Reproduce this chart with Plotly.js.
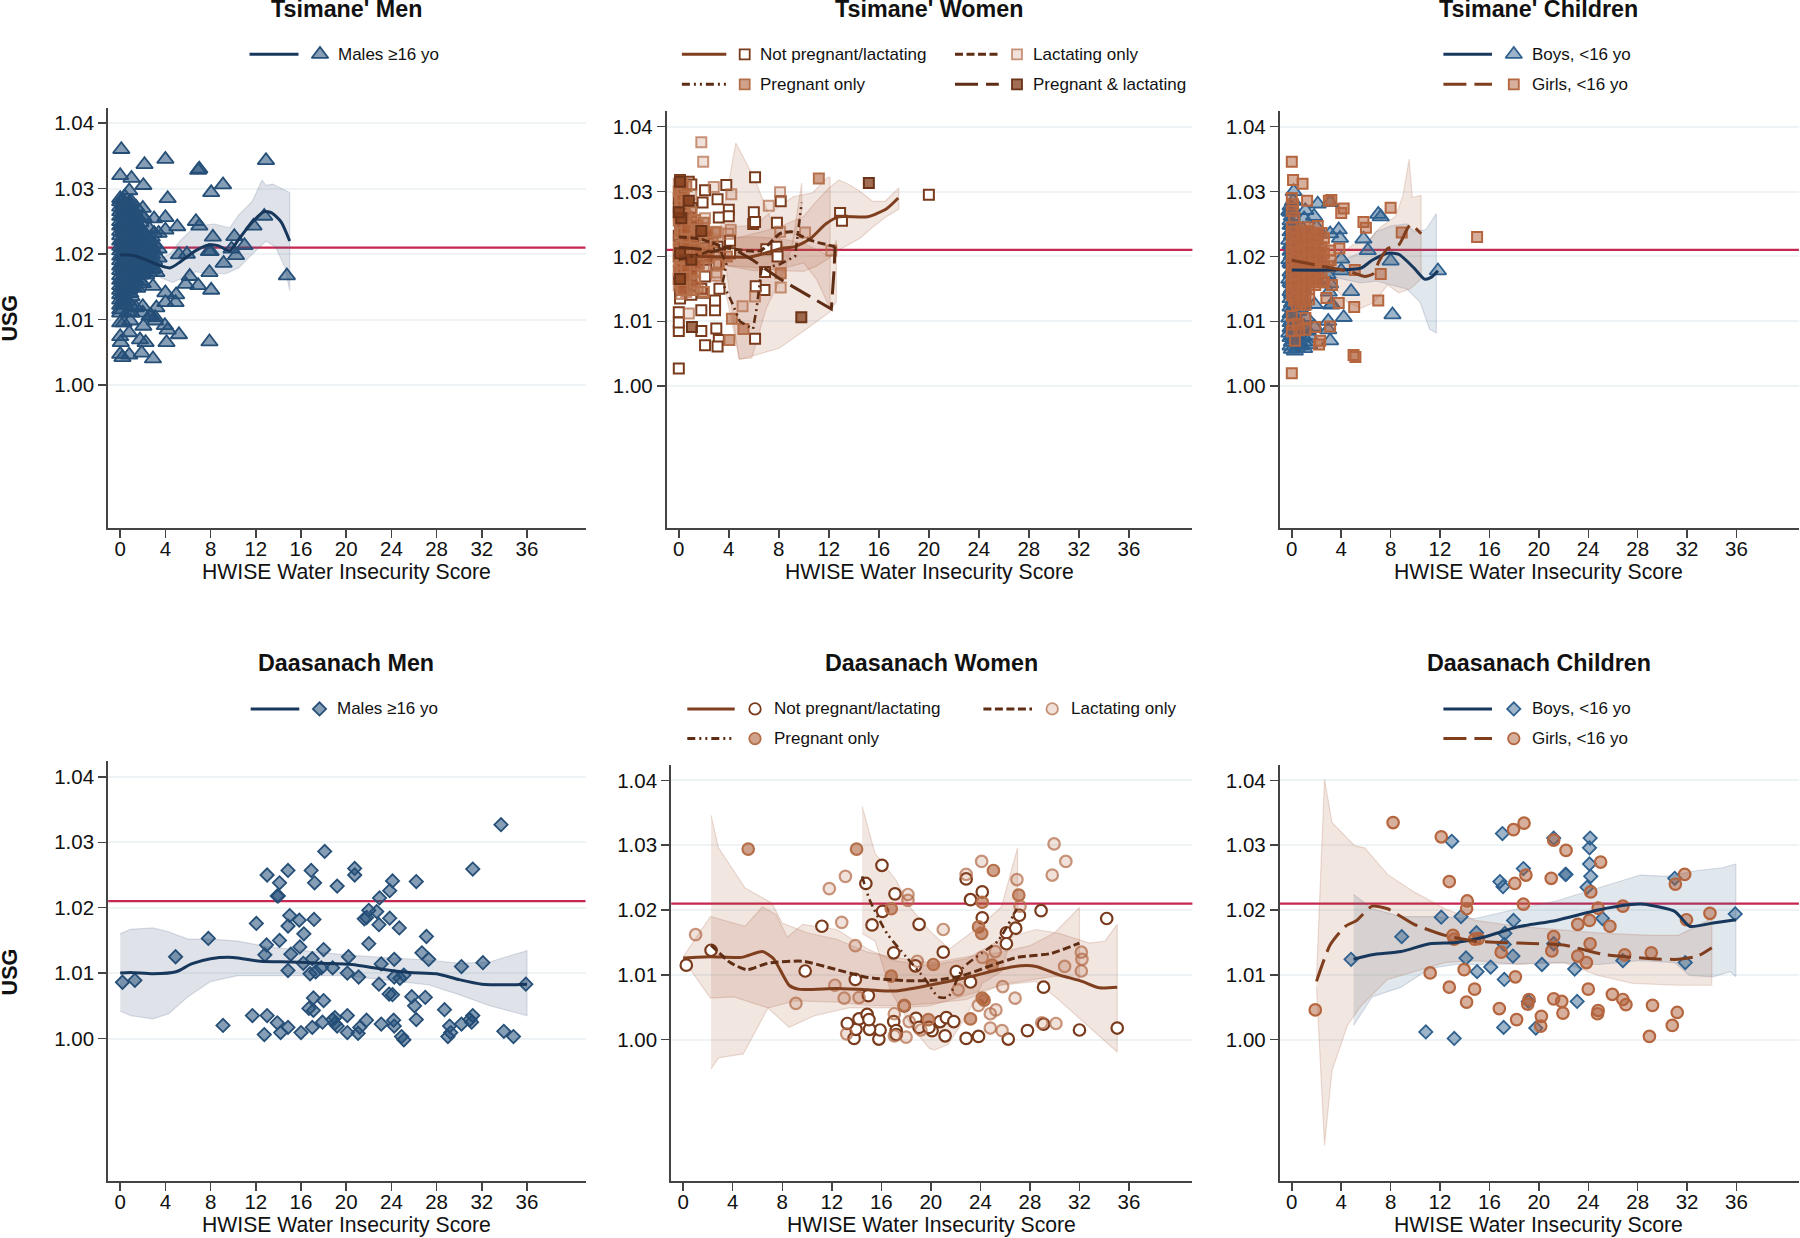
<!DOCTYPE html>
<html><head><meta charset="utf-8"><script src="https://cdn.plot.ly/plotly-3.0.1.min.js"></script>
<style>html,body{margin:0;padding:0;background:#fff}#c{width:1800px;height:1238px}</style></head>
<body><div id="c"></div>
<script>
const xTickVals=[0,4,8,12,16,20,24,28,32,36];
const yTickVals=[1.00,1.01,1.02,1.03,1.04];
const referenceUSG=1.021;
const xTitleText='HWISE Water Insecurity Score';
const yTitleText='USG';

// ---- Tsimane' Men
const tmMales=[[0.1,1.036],[0,1.032],[1,1.0316],[2.15,1.0337],[2.05,1.0305],[4,1.0345],[0.8,1.0297],[4.2,1.0285],[6.9,1.0328],[7,1.033],[8.05,1.0294],[9.1,1.0306],[12.9,1.0343],[12.75,1.0258],[11.8,1.0243],[10.1,1.0227],[8.2,1.0226],[6.7,1.025],[7,1.0243],[5.05,1.0242],[4,1.0256],[3,1.0254],[2.1,1.0255],[4,1.0237],[3.4,1.0232],[7.85,1.0204],[8,1.0204],[5.2,1.0199],[5.9,1.02],[9.85,1.0208],[11,1.0213],[10.25,1.0198],[9.15,1.0186],[7.9,1.0172],[6.15,1.0166],[5.8,1.0154],[6.9,1.0152],[8.05,1.0145],[14.75,1.0167],[4,1.0141],[4.95,1.0138],[4.9,1.0126],[4,1.0126],[3.2,1.0118],[2.9,1.0151],[2,1.012],[5.2,1.0077],[4.1,1.0065],[3.95,1.0091],[4.2,1.0084],[2.05,1.009],[7.9,1.0066],[2.9,1.004],[1.9,1.0049],[0.8,1.0046],[0.2,1.0042],[0,1.0047],[1.75,1.0069],[2.25,1.0065],[0.8,1.008],[0,1.0074],[0.05,1.0065],[0,1.0095],[0.3,1.0095],[3.1,1.0103],[2.75,1.0106],
[0,1.0285],[0,1.028],[0,1.0272],[0,1.0265],[0,1.0258],[0,1.025],[0,1.0243],[0,1.0235],[0,1.0228],[0,1.022],[0,1.0212],[0,1.0205],[0,1.0197],[0,1.019],[0,1.0182],[0,1.0175],[0,1.0167],[0,1.016],[0,1.0152],[0,1.0145],[0,1.0138],[0,1.013],[0,1.0122],[0,1.0115],[0,1.011],
[0.4,1.0288],[0.4,1.0275],[0.4,1.0262],[0.4,1.0248],[0.4,1.0232],[0.4,1.0218],[0.4,1.0202],[0.4,1.0188],[0.4,1.0172],[0.4,1.0158],[0.4,1.0142],[0.4,1.0125],
[1,1.028],[1,1.027],[1,1.0255],[1,1.024],[1,1.0225],[1,1.021],[1,1.0195],[1,1.018],[1,1.0165],[1,1.015],[1,1.0135],[1,1.012],[1,1.011],[0.9,1.0098],
[0.7,1.0268],[0.7,1.0252],[0.7,1.0236],[0.7,1.0222],[0.7,1.0206],[0.7,1.0192],[0.7,1.0176],[0.7,1.016],[0.7,1.0144],[0.7,1.0128],[0.7,1.0112],
[1.4,1.0272],[1.5,1.0245],[1.4,1.0218],[1.5,1.0192],[1.4,1.0168],[1.5,1.0148],[1.4,1.0118],[1.5,1.0258],[1.4,1.0232],[1.5,1.0205],[1.4,1.018],[1.5,1.0158],
[2,1.027],[2,1.0258],[2,1.0235],[2,1.022],[2,1.0208],[2,1.0195],[2,1.0182],[2,1.017],[2,1.0155],[2,1.011],
[2.6,1.0238],[2.6,1.0222],[2.6,1.021],[2.6,1.0198],[2.6,1.0183],[2.6,1.0172],[2.6,1.0105],
[3,1.0232],[3,1.0215],[3,1.0205],[3,1.019],[3,1.0178],[3.2,1.0172],[3.1,1.0098]];
const tmMalesBlob=[[0.2,1.0283],[0.3,1.0276],[0.2,1.0269],[0.3,1.0263],[0.2,1.0257],[0.3,1.0251],[0.2,1.0245],[0.3,1.0239],[0.2,1.0233],[0.3,1.0227],[0.2,1.0221],[0.3,1.0215],[0.2,1.0209],[0.3,1.0203],[0.2,1.0197],[0.3,1.0191],[0.2,1.0185],[0.3,1.0179],[0.2,1.0173],[0.3,1.0167],[0.2,1.0161],[0.3,1.0155],[0.2,1.0149],[0.3,1.0143],[0.2,1.0137],[0.3,1.0131],[0.2,1.0125],
[0.8,1.0279],[0.9,1.0273],[0.8,1.0266],[0.9,1.026],[0.8,1.0254],[0.9,1.0248],[0.8,1.0242],[0.9,1.0236],[0.8,1.023],[0.9,1.0224],[0.8,1.0218],[0.9,1.0212],[0.8,1.0206],[0.9,1.02],[0.8,1.0194],[0.9,1.0188],[0.8,1.0182],[0.9,1.0176],[0.8,1.017],[0.9,1.0164],[0.8,1.0158],[0.9,1.0152],[0.8,1.0146],[0.9,1.014],
[1.2,1.0262],[1.3,1.0252],[1.2,1.0246],[1.3,1.0238],[1.2,1.023],[1.3,1.0222],[1.2,1.0214],[1.3,1.0206],[1.2,1.0198],[1.3,1.019],[1.2,1.0182],[1.3,1.0174],[1.2,1.0166],[1.3,1.0158],[1.2,1.015],
[1.8,1.0248],[1.8,1.024],[1.8,1.0228],[1.8,1.0216],[1.8,1.0204],[1.8,1.0192],[1.8,1.018],[1.8,1.0168],[1.8,1.0158],
[2.3,1.0228],[2.3,1.0216],[2.3,1.0204],[2.3,1.0192],[2.3,1.018],[2.3,1.0168],[2.8,1.0226],[2.8,1.0212],[2.8,1.02],[2.8,1.0188],[2.8,1.0176],[3.4,1.0208],[3.4,1.0194]];
const tmMalesLine=[[0,1.0199],[1.2,1.0198],[2.6,1.0189],[3.6,1.0182],[4.45,1.0179],[5.3,1.0188],[6.65,1.0205],[7.8,1.0214],[8.65,1.0213],[9.7,1.0205],[10.5,1.0223],[11.7,1.0249],[12.75,1.0265],[13.4,1.0263],[14.25,1.0249],[15,1.022]];
const tmMalesUp=[[0,1.021],[2,1.0205],[3.6,1.0194],[4.4,1.02],[5.3,1.022],[6.65,1.0243],[8.3,1.0246],[9.7,1.024],[10.5,1.026],[11.7,1.0281],[12.55,1.0313],[12.9,1.0305],[13.5,1.0307],[15,1.0294]];
const tmMalesLo=[[0,1.0188],[2,1.018],[3.6,1.0164],[4.6,1.0157],[5.5,1.0163],[6.65,1.0173],[8,1.017],[9.35,1.017],[10.5,1.0179],[11.7,1.02],[12.9,1.022],[13.75,1.0211],[14.6,1.0179],[15,1.0144]];

// ---- Tsimane' Women
const twNP=[[0,1.0027],[6.1,1.0322],[20,1.0295],[8.15,1.0285],[6,1.0268],[12.9,1.0267],[13.05,1.0255],[7.85,1.0252],[3.8,1.031],[2.1,1.0302],[3.1,1.0288],[4,1.0272],[3.2,1.026],[4,1.0262],[5.95,1.025],[6.1,1.0253],[4.1,1.0224],[7.8,1.0215],[7,1.0211],[7.9,1.02],[6.9,1.0176],[6.85,1.0148],[6.15,1.0154],[3.25,1.015],[2.1,1.0169],[1.8,1.0117],[3,1.0089],[3.2,1.0071],[3.1,1.0061],[2.1,1.0063],[1.8,1.0085],[0,1.0085],[0,1.0114],[6.1,1.0073],[0.8,1.0315],[1,1.0311],[2.9,1.0126],[2.9,1.0117],[2.9,1.0132],[0.1,1.0135],[1,1.0141],[1.95,1.0144],[1.8,1.015],[1.9,1.0283],[0,1.0098],[0.1,1.0318],[0.1,1.0305],[0,1.029],[0,1.0275],[0.1,1.025],[0,1.0232],[0.1,1.0218],[0,1.02],[0.1,1.0185],[0,1.0165],[0.1,1.0148],[1,1.0275],[1,1.0245],[1,1.0215],[1,1.0185],[1,1.0155],[2,1.0228],[2,1.0195],[3,1.0188],[3.1,1.0215],[4.1,1.0205]];
const twL=[[1.8,1.0376],[1.95,1.0346],[2.8,1.0307],[4.2,1.0296],[8.1,1.0299],[7.2,1.0278],[10.1,1.0237],[8.1,1.0238],[12.2,1.0209],[8.15,1.0152],[6.1,1.0138],[5.1,1.0123],[0.8,1.0112],[4.15,1.0241],[3.95,1.0235],[3,1.0238],[2.1,1.0259],[2.9,1.0206],[3,1.017],[1,1.0182],[0,1.0312],[0.1,1.0295],[0,1.0262],[0.1,1.0242],[0,1.0225],[0.1,1.0208],[0,1.0192],[0.1,1.0172],[0,1.0155],[1,1.0295],[1,1.0258],[1,1.023],[1,1.02],[1,1.0165],[2,1.0212],[2,1.0185],[3,1.0175],[0.2,1.028],[0.2,1.0268],[0.2,1.0228],[0.2,1.0198],[0.2,1.0178],[0.2,1.0142],[0.5,1.0265],[0.5,1.0212],[0.5,1.0162],[0.6,1.0145],[1.5,1.0248],[1.5,1.0225],[1.5,1.019],[1.5,1.0152]];
const twP=[[11.2,1.032],[4.25,1.0104],[4.05,1.0071],[5.17,1.0088],[8.15,1.0174],[2.9,1.0237],[3.85,1.02],[3.2,1.0188],[0.1,1.0315],[0,1.03],[0.1,1.0282],[0,1.0255],[0.1,1.0238],[0,1.0212],[0.1,1.0195],[0,1.0178],[0.1,1.016],[1,1.0268],[1,1.0238],[1,1.0208],[1,1.0175],[1,1.0148],[2,1.0252],[2,1.024],[2,1.0202],[2,1.0145],[0.4,1.0292],[0.4,1.0272],[0.4,1.0248],[0.4,1.0222],[0.4,1.0205],[0.4,1.0188],[0.4,1.0168],[0.4,1.015],[0.7,1.0232],[0.7,1.0192],[0.7,1.0155],
[0.3,1.0312],[0.2,1.0304],[0.3,1.0296],[0.2,1.0288],[0.3,1.0278],[0.2,1.0262],[0.3,1.0256],[0.2,1.0244],[0.3,1.0236],[0.2,1.0216],[0.3,1.0208],[0.2,1.02],[0.3,1.0192],[0.2,1.0182],[0.3,1.0174],[0.2,1.0158],[0.3,1.0148],[0.6,1.0308],[0.6,1.0284],[0.6,1.0262],[0.6,1.0242],[0.6,1.0226],[0.6,1.0214],[0.6,1.0198],[0.6,1.018],[0.6,1.0168],[1.3,1.0256],[1.3,1.0228],[1.3,1.0212],[1.3,1.0196],[1.3,1.0178],[1.3,1.016],[1.6,1.0236],[1.6,1.0206],[1.6,1.0188],[2.3,1.0235],[2.3,1.0208],[2.4,1.0198],[2.7,1.0222]];
const twPL=[[15.2,1.0313],[9.8,1.0106],[1.05,1.0091],[0.1,1.0165],[1.8,1.0239],[0.8,1.0286],[0.2,1.0259],[0,1.0268],[0.1,1.0315],[1,1.0195],[0.1,1.0205]];
const twNPLine=[[0,1.0201],[1.65,1.02],[4.1,1.0199],[5.63,1.0199],[6.55,1.0203],[8.1,1.0212],[9.3,1.0215],[10.5,1.0227],[11.75,1.025],[12.8,1.0261],[15.1,1.0261],[16.65,1.0274],[17.55,1.029]];
const twLLine=[[0,1.023],[1.65,1.0227],[4.1,1.0212],[6.55,1.0209],[8.1,1.0235],[9,1.0238],[10.5,1.0225],[12.5,1.0215]];
const twPLine=[[0,1.0195],[2,1.0205],[3.2,1.0215],[3.8,1.0188],[3.5,1.0159],[4.25,1.0129],[4.87,1.01],[5.94,1.0088],[6.25,1.0123],[6.6,1.018],[8.08,1.0188],[9.3,1.02],[9.83,1.0283]];
const twPLLine=[[0,1.0214],[1.96,1.0211],[2.6,1.0207],[4.1,1.0215],[5.94,1.0194],[8.1,1.0165],[10.5,1.0138],[12.2,1.0119],[12.43,1.0182],[12.5,1.0215]];
const twNPUp=[[0,1.0215],[4,1.0225],[6,1.0235],[8,1.0245],[10,1.0262],[11,1.0285],[12,1.0305],[12.8,1.0318],[13.5,1.0312],[14.5,1.03],[15.5,1.0285],[16.5,1.0285],[17.6,1.0306]];
const twNPLo=[[0,1.019],[4,1.0185],[6,1.0183],[8,1.0178],[10,1.0177],[11,1.0185],[12,1.0197],[12.8,1.021],[13.5,1.0218],[14.5,1.0228],[15.5,1.0245],[16.5,1.026],[17.6,1.0273]];
const twLUp=[[0,1.0245],[2,1.0245],[4,1.0245],[6,1.0248],[7.85,1.0275],[9.15,1.0292],[10.7,1.0298],[11.9,1.0322],[12.1,1.0322]];
const twLLo=[[0,1.0215],[2,1.021],[4,1.0185],[6,1.0178],[8,1.018],[9,1.0185],[10,1.019],[11,1.0165],[12.1,1.012]];
const twPUp=[[3,1.021],[3.5,1.026],[4.56,1.0375],[6,1.0322],[7.2,1.0265],[8.5,1.021],[9,1.021],[9.83,1.0313]];
const twPLo=[[3,1.0195],[3.8,1.018],[4.8,1.0042],[5.83,1.0043],[7,1.012],[8.5,1.018],[9.83,1.027]];
const twPLUp=[[0,1.023],[2,1.024],[4,1.023],[6,1.023],[8,1.0228],[10,1.022],[12.1,1.02],[12.6,1.0225]];
const twPLLo=[[0,1.0195],[2,1.0185],[3.8,1.014],[4.87,1.0041],[8,1.0058],[10,1.0085],[12.06,1.0114],[12.6,1.013]];

// ---- Tsimane' Children
const tcBoys=[[0.15,1.03],[2.1,1.0281],[3.1,1.0283],[1.1,1.0271],[1.8,1.0262],[7,1.0265],[7.2,1.0261],[3.8,1.0241],[3.1,1.0235],[3.9,1.0228],[5.8,1.0227],[6.15,1.0209],[8,1.0193],[11.83,1.0178],[4,1.0196],[4,1.0178],[4.8,1.0146],[8.15,1.011],[4.2,1.0106],[3.25,1.0126],[1.85,1.0126],[2.95,1.01],[2.95,1.0087],[3.1,1.007],[1,1.0058],[0.25,1.0054],[0,1.0057],[1.2,1.0106],[1.85,1.0091],[0.95,1.0076],
[-0.2,1.027],[0.1,1.0285],[-0.1,1.0255],[0.1,1.024],[-0.2,1.0225],[0,1.021],[-0.2,1.0195],[0.1,1.018],[-0.2,1.0165],[0,1.015],[-0.1,1.0135],[0.1,1.012],[-0.2,1.0105],[0.1,1.0095],[-0.2,1.0082],[0.2,1.0072],[1,1.0258],[0.9,1.0242],[1.1,1.022],[0.9,1.0195],[1.1,1.017],[0.9,1.015],[1,1.0125],[2,1.0245],[1.9,1.0225],[2.1,1.0195],[2,1.0165],[2.9,1.0172],[3.1,1.0158],[3,1.0145],[3.2,1.0125],
[0,1.0275],[0,1.0262],[0,1.0248],[0,1.0232],[0,1.0218],[0,1.0202],[0,1.0188],[0,1.0172],[0,1.0158],[0,1.0142],[0,1.0128],[0,1.0112],[0,1.01],[0,1.0088],[0,1.0078],[0,1.0068],[0.5,1.0098],[0.5,1.0082],[0.5,1.0066],[1,1.0092],[1,1.0068],[1.4,1.0078],[0.5,1.0115],[0.5,1.0128],
[-0.1,1.0278],[-0.1,1.0268],[-0.1,1.0248],[-0.1,1.0238],[-0.1,1.0218],[-0.1,1.0208],[-0.1,1.019],[-0.1,1.0176],[-0.1,1.016],[-0.1,1.0146],[-0.1,1.0122],[-0.1,1.0112],[-0.1,1.0098],[-0.1,1.009],[-0.1,1.0075],[-0.1,1.0062],[0.4,1.0092],[0.4,1.0074],[0.4,1.0058],[0.7,1.0086],[0.7,1.0074],[0.7,1.0062],[1.3,1.0085],[1.4,1.0064]];
const tcGirls=[[0,1.0346],[0.1,1.0318],[0.87,1.0312],[1.24,1.0286],[3,1.0286],[3.2,1.0287],[4.2,1.0274],[4,1.0267],[5.8,1.0253],[6,1.0244],[8,1.0275],[8.9,1.0237],[15,1.023],[7.2,1.0173],[5.1,1.0179],[7,1.0132],[5.05,1.0122],[3.8,1.0128],[2.8,1.0136],[5,1.0048],[5.15,1.0045],[0,1.002],[2.2,1.0064],[2.3,1.007],[3.1,1.0092],[1.9,1.0091],[1.1,1.0087],[0.25,1.007],[3.85,1.0212],[3.15,1.0194],[2.95,1.0185],[2.1,1.0247],[3.1,1.0209],[3.25,1.0156],
[0,1.029],[0.1,1.028],[0,1.027],[0.2,1.026],[0,1.0245],[0.1,1.0238],[0,1.023],[0.2,1.0222],[0,1.0215],[0.1,1.0208],[0,1.02],[0.2,1.0192],[0,1.0185],[0.1,1.0178],[0,1.017],[0.2,1.0162],[0,1.0155],[0.1,1.0148],[0,1.014],[0.2,1.0132],[0,1.0108],[0.1,1.0095],[0,1.0085],
[0.7,1.0235],[0.7,1.0222],[0.7,1.021],[0.7,1.0195],[0.7,1.018],[0.7,1.0165],[0.7,1.015],[0.7,1.0135],[0.7,1.0125],
[1.1,1.0245],[1.1,1.023],[1.1,1.0215],[1.1,1.02],[1.1,1.0185],[1.1,1.017],[1.1,1.0155],[1.1,1.014],[1.1,1.0125],[1.1,1.0105],
[1.7,1.0232],[1.7,1.0218],[1.7,1.0205],[1.7,1.019],[1.7,1.0175],[1.7,1.016],
[2.1,1.0235],[2.1,1.022],[2.1,1.0205],[2.1,1.0195],[2.1,1.018],[2.1,1.0165],
[2.6,1.0228],[2.6,1.0205],[2.6,1.0185],[2.6,1.016],
[0.3,1.0238],[0.4,1.0228],[0.3,1.0218],[0.4,1.0206],[0.3,1.0196],[0.4,1.0186],[0.3,1.0174],[0.4,1.0166],[0.3,1.0156],[0.4,1.0146],[0.3,1.0136],[0.4,1.0126],[0.9,1.024],[0.9,1.0226],[0.9,1.0204],[0.9,1.019],[0.9,1.0172],[0.9,1.016],[0.9,1.0146],[0.9,1.013],[1.4,1.0238],[1.4,1.0224],[1.4,1.021],[1.4,1.0194],[1.4,1.018],[1.4,1.0166],[1.4,1.015],[1.4,1.0134],[1.9,1.023],[1.9,1.0212],[1.9,1.02],[1.9,1.0186],[1.9,1.017],[1.9,1.0156],[2.4,1.0236],[2.4,1.0214],[2.4,1.0196],[2.4,1.0176],[2.4,1.0162],[0.5,1.0096],[0.6,1.0086]];
const tcBoysLine=[[0,1.0179],[3.1,1.0179],[5.6,1.0182],[6.5,1.0194],[7.75,1.0205],[8.67,1.0203],[9.9,1.0182],[10.75,1.0165],[11.3,1.0168],[11.83,1.0178]];
const tcBoysUp=[[0,1.0195],[3.4,1.0188],[5.6,1.0206],[6.8,1.0238],[8.05,1.0247],[9.3,1.025],[9.9,1.0238],[10.85,1.0241],[11.7,1.0266]];
const tcBoysLo=[[0,1.0165],[3.4,1.0168],[5.6,1.0159],[6.8,1.0162],[8.05,1.0156],[9.3,1.015],[10.4,1.0129],[11.15,1.0088],[11.7,1.0082]];
const tcGirlsLine=[[0,1.0194],[2.4,1.0185],[4.8,1.0176],[5.9,1.0169],[6.57,1.0173],[7.1,1.0194],[7.75,1.0212],[8.67,1.0218],[9.3,1.0241],[9.6,1.0249],[10.47,1.0235]];
const tcGirlsUp=[[0,1.0205],[3.4,1.0194],[4.95,1.0218],[6.2,1.0224],[7.1,1.0244],[8.4,1.0262],[9,1.0294],[9.5,1.035],[9.75,1.0291],[10.47,1.0294]];
const tcGirlsLo=[[0,1.018],[3.4,1.0153],[4.5,1.0129],[5.6,1.012],[6.66,1.0129],[7.75,1.0156],[8.67,1.0144],[9.6,1.015],[10.47,1.0165]];

// ---- Daasanach Men
const dmMales=[[0.2,1.0086],[1.3,1.0089],[4.9,1.0125],[7.8,1.0153],[9.1,1.002],[11.7,1.0035],[12.05,1.0176],[13,1.025],[14.1,1.0238],[13.9,1.0218],[14,1.0218],[14.85,1.0257],[16.9,1.0257],[17.2,1.0238],[18.1,1.0286],[19.2,1.0233],[20.75,1.026],[20.75,1.025],[24.1,1.0241],[23.85,1.0226],[22.95,1.0215],[26.2,1.024],[31.2,1.0259],[33.7,1.0327],[22,1.0196],[22.7,1.0194],[21.8,1.0185],[21.6,1.0183],[23.85,1.0184],[22.9,1.0174],[24.7,1.0169],[15,1.0188],[14.85,1.0172],[15.85,1.0181],[17.15,1.0182],[16.25,1.016],[14.1,1.015],[12.95,1.0143],[15.9,1.014],[18,1.0136],[22,1.0145],[27.1,1.0156],[12.8,1.0128],[15.1,1.0129],[17,1.0122],[16.2,1.0115],[20.2,1.0125],[24.25,1.0121],[23.1,1.0114],[26.7,1.0131],[27.3,1.0121],[30.2,1.011],[32.1,1.0116],[14.85,1.0104],[16.8,1.0099],[17.3,1.0102],[17.8,1.0108],[18.8,1.0108],[20.1,1.01],[21.1,1.0094],[24.25,1.0094],[24.75,1.0092],[25.1,1.0097],[22.9,1.0083],[35.9,1.0083],[23.8,1.0068],[24.1,1.0067],[25.8,1.0064],[27,1.0063],[26.05,1.005],[28.7,1.0044],[26.2,1.0029],[17.1,1.0062],[18,1.0058],[16.7,1.0046],[17.1,1.0043],[13,1.0035],[13.9,1.0024],[14.2,1.0009],[12.75,1.0006],[14.85,1.0017],[16,1.0009],[17,1.0017],[17.9,1.0025],[18.8,1.0029],[19,1.0032],[19.2,1.0019],[19,1.0023],[20.1,1.0035],[20.1,1.0009],[21.05,1.0008],[21.2,1.0017],[21.8,1.0028],[23.1,1.0022],[24.2,1.0028],[24.25,1.0019],[24.9,1.0003],[25.1,0.9998],[29,1.0003],[29.25,1.0009],[29.15,1.0019],[30.2,1.0022],[30.95,1.0029],[31.2,1.0035],[31.1,1.0025],[33.95,1.0011],[34.8,1.0003]];
const dmLine=[[0,1.01],[0.9,1.0101],[2.9,1.0099],[4.95,1.0102],[6.3,1.0114],[8,1.0122],[10,1.0124],[12.4,1.0118],[15.1,1.0117],[17.8,1.0115],[20.5,1.0113],[23.2,1.0106],[25.6,1.0101],[28,1.0099],[30,1.009],[32,1.0083],[34.05,1.0082],[36,1.0083]];
const dmUp=[[0,1.016],[0.9,1.0167],[2.9,1.0169],[4.3,1.0163],[6,1.0152],[8,1.0152],[10.4,1.0149],[13.1,1.014],[16.5,1.0134],[19.85,1.0128],[23.2,1.0124],[27.3,1.012],[30,1.0115],[32.7,1.0117],[34.75,1.0128],[36,1.0134]];
const dmLo=[[0,1.0042],[0.9,1.0035],[2.9,1.003],[4.3,1.0038],[6,1.0064],[8,1.0087],[10.4,1.0096],[13.1,1.0096],[16.5,1.0096],[19.85,1.0096],[23.2,1.009],[27.3,1.0082],[30,1.0067],[32.7,1.005],[34.75,1.0041],[36,1.0035]];

// ---- Daasanach Women
const dwNP=[[0.25,1.0115],[2.25,1.0138],[9.85,1.0106],[11.2,1.0175],[14.75,1.0241],[16.05,1.0269],[17.1,1.0225],[16.1,1.0198],[15.25,1.0177],[19.05,1.0178],[17,1.0134],[18.75,1.0114],[13.9,1.0093],[14.95,1.0068],[21,1.0135],[22.05,1.0105],[23.2,1.0089],[22.85,1.0248],[23.2,1.0216],[24.15,1.0228],[24.15,1.0188],[26.1,1.0165],[26.1,1.0148],[26.85,1.0172],[27.15,1.0192],[28.9,1.0199],[29.1,1.0081],[34.2,1.0187],[35.05,1.0018],[32,1.0015],[29.1,1.0024],[27.8,1.0014],[26.25,1.0001],[23.85,1.0005],[22.85,1.0002],[21.15,1.0006],[20.1,1.0014],[15.8,1.0001],[15.9,1.0015],[15.05,1.0016],[13.8,1.0002],[13.95,1.0016],[13.25,1.0025],[14.2,1.0032],[14.85,1.0039],[15,1.0031],[17,1.0028],[17.2,1.0014],[17.2,1.0008],[17.85,1.0052],[18.8,1.0033],[19.05,1.0019],[19.85,1.0019],[20.75,1.0028],[21.25,1.0034],[21.85,1.0028]];
const dwL=[[1,1.0162],[11.8,1.0233],[13.1,1.0252],[12.8,1.0181],[13.9,1.0145],[12.25,1.0084],[13,1.0064],[9.1,1.0056],[14.2,1.0065],[18.15,1.0224],[18.15,1.0215],[18.9,1.0121],[21,1.017],[22.85,1.0255],[24.1,1.0275],[26.95,1.0247],[27.2,1.0206],[29.95,1.0302],[30.9,1.0275],[29.8,1.0254],[30.8,1.0113],[32.15,1.0135],[32.2,1.0124],[32.15,1.0106],[25.8,1.0082],[26.8,1.0064],[25.2,1.0136],[24.15,1.0127],[22.2,1.0077],[25.25,1.0046],[24.8,1.004],[23.85,1.0053],[24.8,1.0018],[25.75,1.0014],[28.95,1.0026],[30.1,1.0025],[17.05,1.004],[18,1.0004],[18.25,1.0028],[17.05,1.0006],[13.2,1.0009],[19.2,1.0015]];
const dwP=[[5.25,1.0294],[14,1.0294],[16.8,1.0202],[20.2,1.0116],[16.8,1.0098],[27.1,1.0223],[24.15,1.0212],[25.05,1.0261],[23.85,1.0174],[24.1,1.0164],[24.95,1.0115],[24.15,1.0064],[24.3,1.0061],[23.2,1.0032],[19.8,1.0031],[17.85,1.0053]];
const dwNPLine=[[0,1.0126],[2.2,1.0128],[4.7,1.0127],[6.4,1.0136],[7.3,1.0125],[8.55,1.0084],[9.3,1.0078],[12.4,1.0079],[14.9,1.0077],[17.05,1.0075],[19.85,1.0084],[22.9,1.0096],[25.7,1.0109],[27.25,1.0114],[28.5,1.0113],[30.35,1.01],[32.2,1.009],[33.6,1.008],[35.05,1.0081]];
const dwLLine=[[2.25,1.0146],[3.8,1.0119],[5.15,1.0108],[6.85,1.0118],[9.65,1.0121],[12.4,1.0108],[14.9,1.0096],[18,1.0091],[20.45,1.0092],[22.6,1.0099],[24.8,1.0114],[26.95,1.0127],[29.7,1.0133],[32,1.0149]];
const dwPLine=[[14.45,1.0252],[15.05,1.0216],[16.45,1.0164],[18,1.0128],[19.55,1.0093],[20.6,1.0066],[21.4,1.0066],[22.6,1.0111],[24.15,1.0134],[25.4,1.0152],[26.95,1.0202]];
const dwNPUp=[[0,1.0128],[2.2,1.019],[5,1.0175],[6.4,1.0205],[7.5,1.0193],[8.4,1.0158],[9.65,1.0178],[12.4,1.017],[14.9,1.014],[17,1.0122],[19.85,1.0114],[22.9,1.0125],[25.7,1.0155],[28.5,1.017],[30.35,1.0164],[32.8,1.0149],[34.05,1.0152],[35.05,1.0178]];
const dwNPLo=[[0,1.0124],[2.2,1.0064],[4.1,1.0066],[6.85,1.0049],[8.55,1.0019],[10.6,1.0037],[13.35,1.0049],[17.05,1.0049],[19.85,1.0052],[22.9,1.0069],[25.7,1.0084],[28.5,1.009],[30.35,1.0061],[32.8,1.0019],[35.05,0.9981]];
const dwLUp=[[2.25,1.0346],[2.85,1.0296],[5,1.0234],[7.15,1.0211],[8,1.018],[10,1.0165],[12.4,1.0155],[14.9,1.0135],[17,1.0127],[20,1.0118],[22.9,1.0128],[25.7,1.0135],[28,1.0145],[30,1.0165],[32,1.0204]];
const dwLLo=[[2.25,0.9955],[2.85,0.9972],[4.85,0.9978],[6.85,1.0049],[9,1.006],[12.4,1.0058],[14.9,1.0053],[17,1.0052],[20,1.0056],[22.9,1.0062],[25.7,1.0085],[28,1.0092],[30,1.0098],[32,1.0093]];
const dwPUp=[[14.45,1.036],[15.5,1.0287],[17.2,1.0246],[18.3,1.0205],[19.85,1.0169],[21.5,1.014],[22.9,1.016],[24.15,1.0178],[25.7,1.0205],[27,1.0296]];
const dwPLo=[[14.45,1.0164],[15.5,1.0152],[16.75,1.0075],[18.6,1.0016],[19.85,0.9987],[20.3,0.9984],[21.4,0.9993],[22.9,1.0037],[24.15,1.0087],[25.7,1.0105],[27,1.0193]];

// ---- Daasanach Children
const dcBoys=[[4.8,1.0124],[8.9,1.0159],[12.1,1.0189],[12.95,1.0306],[13.7,1.019],[10.85,1.0012],[13.15,1.0002],[14.1,1.0126],[14.95,1.0165],[15,1.0105],[16.1,1.0112],[17.05,1.0318],[16.85,1.0244],[17.1,1.0236],[17.95,1.0184],[17.25,1.0164],[17.2,1.0147],[17.9,1.0129],[17.2,1.0093],[17.15,1.0019],[18.75,1.0264],[19.75,1.0018],[20.25,1.0116],[21.2,1.0311],[21.2,1.0148],[22.15,1.0255],[22.2,1.0255],[22.9,1.0109],[23.1,1.0059],[24.15,1.0311],[24.1,1.0296],[24.1,1.0271],[24.2,1.0252],[23.9,1.0235],[25.15,1.0187],[26.8,1.0122],[31,1.0249],[31.85,1.0119],[35.9,1.0194],[19.15,1.0059]];
const dcGirls=[[1.9,1.0046],[8.2,1.0335],[12.1,1.0313],[12.75,1.0244],[11.2,1.0103],[12.75,1.0081],[13.05,1.0161],[13.15,1.0155],[14.2,1.0214],[14.15,1.0202],[13.95,1.0108],[14.15,1.0058],[14.8,1.0155],[15.1,1.0156],[14.8,1.0078],[16.95,1.0135],[16.8,1.0048],[17.95,1.0324],[18.8,1.0334],[18.05,1.0241],[18.95,1.0254],[18.75,1.0209],[18.1,1.0097],[18.2,1.0031],[19.1,1.0055],[19.2,1.0062],[20.2,1.0036],[20.15,1.0021],[21,1.0249],[21.2,1.0308],[22.2,1.0292],[21.2,1.0159],[21.05,1.0137],[21.2,1.0063],[21.85,1.0059],[21.95,1.0041],[23.15,1.0178],[23.15,1.0129],[23.85,1.0119],[24.1,1.0184],[24.2,1.0228],[25,1.0274],[24.8,1.0203],[25.75,1.0175],[24.15,1.0148],[24,1.0078],[25.95,1.007],[24.8,1.0045],[24.75,1.004],[26.8,1.0062],[27.05,1.0054],[26.95,1.0131],[26.8,1.0206],[29.1,1.0134],[29.2,1.0053],[28.95,1.0005],[30.8,1.0022],[31.2,1.0042],[31.05,1.024],[31.8,1.0255],[31.95,1.0185],[33.85,1.0195]];
const dcBoysLine=[[5,1.0124],[6.5,1.0131],[8.85,1.0136],[11.15,1.0148],[13.3,1.015],[15.5,1.0158],[18.3,1.0174],[21.4,1.0184],[24.8,1.02],[27.25,1.0208],[28.5,1.0209],[31,1.0198],[32.2,1.0175],[34.1,1.018],[35.95,1.0185]];
const dcBoysUp=[[5,1.0224],[6.5,1.0202],[8.85,1.019],[11.15,1.019],[14.85,1.0187],[18.3,1.0202],[21.4,1.0214],[24.8,1.0234],[28.2,1.0254],[30.35,1.0252],[32.85,1.0261],[34.85,1.0265],[35.95,1.0271]];
const dcBoysLo=[[5,1.0022],[6.5,1.0066],[8.85,1.0081],[11.15,1.011],[13.3,1.0116],[16.1,1.0116],[21.4,1.0119],[24.8,1.0116],[28.2,1.0122],[31,1.0119],[32.2,1.0099],[34.1,1.0097],[35.5,1.0105],[35.95,1.0097]];
const dcGirlsLine=[[2,1.009],[3.1,1.0146],[4.35,1.0175],[5.25,1.0184],[6.5,1.0206],[7.75,1.0202],[9.9,1.0178],[12.4,1.0161],[14.85,1.0152],[18.3,1.0149],[22,1.0146],[25.4,1.0131],[29.1,1.0125],[31.3,1.0124],[32.85,1.0129],[34,1.0142]];
const dcGirlsUp=[[2,1.0095],[2.65,1.0402],[3.25,1.0335],[5.1,1.0299],[5.9,1.0296],[7.75,1.0255],[9.9,1.0228],[12.4,1.0202],[14.85,1.0184],[18.3,1.0175],[22,1.0169],[25.4,1.0164],[29.1,1.0161],[31.3,1.0161],[34,1.0187]];
const dcGirlsLo=[[2,1.0081],[2.65,0.9837],[3.25,0.9952],[4.5,1.0022],[5.6,1.0052],[7.75,1.0093],[9.9,1.0105],[12.4,1.0119],[14.85,1.0122],[18.3,1.0116],[22,1.0119],[24.8,1.0099],[27.6,1.0087],[31.3,1.0084],[34,1.0084]];

// ---- styling
const FONT='"Liberation Sans", Arial, sans-serif';
const NAVY='#17385c', BROWN='#7f3f1e', DKBROWN='#5f2d14';
const mBlue={fill:'rgba(34,78,120,0.55)',line:'#264f78'};
const mBlueLt={fill:'rgba(40,90,135,0.45)',line:'#2f6190'};
const mNP={fill:'#ffffff',line:'#7a3a1c'};
const mL={fill:'rgba(178,105,70,0.2)',line:'rgba(178,105,70,0.7)'};
const mP={fill:'rgba(170,85,45,0.55)',line:'#b5704a'};
const mPL={fill:'rgba(130,60,25,0.75)',line:'#6b3318'};
const mG={fill:'rgba(175,95,60,0.5)',line:'#b5663e'};
const bandBlue='rgba(80,100,135,0.18)', bandBlueLine='rgba(80,100,135,0.2)';
const bandBlue2='rgba(70,110,150,0.17)';
const bandBrown='rgba(165,90,55,0.15)', bandBrownLine='rgba(165,90,55,0.2)';
const DASH={solid:'solid',dash:'8px,3.5px',dot:'8px,4px,2px,4px,2px,4px',long:'23px,8px'};
const SIZE={'triangle-up':14.5,square:10,diamond:10.2,circle:11.5};

const P=[ // px frames measured on the picture
 {l:108.2,r:585.5,t:108,b:528,x0:[120.2,527],y:[385,123.2],title:"Tsimane' Men",ty:9,ycy:318},
 {l:666.8,r:1192.4,t:111,b:528,x0:[678.8,1128.9],y:[386.1,126.7],title:"Tsimane' Women",ty:9},
 {l:1279.8,r:1798.9,t:111,b:528,x0:[1291.8,1736.5],y:[386.1,126.7],title:"Tsimane' Children",ty:9},
 {l:108.2,r:585.5,t:761.3,b:1181.3,x0:[120.2,527],y:[1038.5,776.9],title:'Daasanach Men',ty:662.9,ycy:971.8},
 {l:671.2,r:1192.4,t:764.7,b:1181.3,x0:[683.2,1129],y:[1039.7,780.4],title:'Daasanach Women',ty:662.9},
 {l:1279.8,r:1798.9,t:764.7,b:1181.3,x0:[1291.8,1736.5],y:[1039.7,780.4],title:'Daasanach Children',ty:662.9}
];
const W=1800,H=1238;
const layout={width:W,height:H,margin:{l:0,r:0,t:0,b:0},paper_bgcolor:'#fff',plot_bgcolor:'rgba(0,0,0,0)',showlegend:false,shapes:[],annotations:[],font:{family:FONT,color:'#111'}};
const traces=[];
P.forEach((p,i)=>{
  const n=i+1, xk='xaxis'+(n>1?n:''), yk='yaxis'+(n>1?n:'');
  const ux=(p.x0[1]-p.x0[0])/36, uy=(p.y[0]-p.y[1])/0.04;
  layout[xk]={domain:[p.l/W,p.r/W],range:[(p.l-p.x0[0])/ux,(p.r-p.x0[0])/ux],anchor:'y'+(n>1?n:''),tickvals:xTickVals,ticks:'outside',ticklen:8,tickwidth:1.5,tickcolor:'#444',showline:true,linecolor:'#444',linewidth:2,showgrid:false,zeroline:false,tickfont:{size:20.5,family:FONT,color:'#111'},ticklabelstandoff:-7,automargin:false};
  layout[yk]={domain:[1-p.b/H,1-p.t/H],range:[1+(p.y[0]-p.b)/uy,1+(p.y[0]-p.t)/uy],anchor:'x'+(n>1?n:''),tickvals:yTickVals,tickformat:'.2f',ticks:'outside',ticklen:8,tickwidth:1.5,tickcolor:'#444',showline:true,linecolor:'#444',linewidth:2,showgrid:true,gridcolor:'#eef4f6',gridwidth:2,zeroline:false,tickfont:{size:20.5,family:FONT,color:'#111'},automargin:false};
  if(p.ycy) layout.annotations.push({xref:'paper',yref:'paper',x:9.6/W,y:1-p.ycy/H,text:'<b>'+yTitleText+'</b>',textangle:-90,showarrow:false,xanchor:'center',yanchor:'middle',font:{size:21.5,family:FONT,color:'#111'}});
  layout.shapes.push({type:'line',xref:'x'+(n>1?n:'')+' domain',yref:'y'+(n>1?n:''),x0:0,x1:1,y0:referenceUSG,y1:referenceUSG,line:{color:'#c6264f',width:2.2},layer:'below'});
  layout.annotations.push({xref:'paper',yref:'paper',x:(p.l+p.r-1)/2/W,y:1-p.ty/H,text:'<b>'+p.title+'</b>',showarrow:false,xanchor:'center',yanchor:'middle',font:{size:23.3,family:FONT,color:'#111'}});
  layout.annotations.push({xref:'paper',yref:'paper',x:(p.l+p.r-1)/2/W,y:1-(p.b+44)/H,text:xTitleText,showarrow:false,xanchor:'center',yanchor:'middle',font:{size:21.2,family:FONT,color:'#111'}});
});
const axOf=i=>({xaxis:'x'+(i>0?i+1:''),yaxis:'y'+(i>0?i+1:'')});
const xs=a=>a.map(d=>d[0]), ys=a=>a.map(d=>d[1]);
function band(i,up,lo,fill,line){const poly=up.concat(lo.slice().reverse());traces.push({type:'scatter',mode:'lines',x:xs(poly),y:ys(poly),fill:'toself',fillcolor:fill,line:{color:line,width:1.2},hoverinfo:'skip',...axOf(i)});}
function pts(i,a,sym,st,lw){traces.push({type:'scatter',mode:'markers',x:xs(a),y:ys(a),marker:{symbol:sym,size:SIZE[sym],color:st.fill,line:{color:st.line,width:lw||1.8}},...axOf(i)});}
function line(i,a,col,dash,w,linear){traces.push({type:'scatter',mode:'lines',x:xs(a),y:ys(a),line:{color:col,width:w||3,dash:DASH[dash],shape:linear?'linear':'spline',smoothing:0.6},hoverinfo:'skip',...axOf(i)});}

band(0,tmMalesUp,tmMalesLo,bandBlue,bandBlueLine);
pts(0,tmMales.concat(tmMalesBlob),'triangle-up',mBlue);
line(0,tmMalesLine,NAVY,'solid');
band(1,twNPUp,twNPLo,bandBrown,bandBrownLine);band(1,twLUp,twLLo,bandBrown,bandBrownLine);band(1,twPUp,twPLo,bandBrown,bandBrownLine);band(1,twPLUp,twPLLo,bandBrown,bandBrownLine);
pts(1,twNP,'square',mNP,2);pts(1,twL,'square',mL,2);pts(1,twP,'square',mP,2);pts(1,twPL,'square',mPL,2);
line(1,twNPLine,BROWN,'solid');line(1,twLLine,DKBROWN,'dash');line(1,twPLine,DKBROWN,'dot',2.6,true);line(1,twPLLine,DKBROWN,'long',3,true);
band(2,tcBoysUp,tcBoysLo,bandBlue2,bandBlueLine);band(2,tcGirlsUp,tcGirlsLo,bandBrown,bandBrownLine);
pts(2,tcBoys,'triangle-up',mBlueLt);pts(2,tcGirls,'square',mG,2);
line(2,tcBoysLine,NAVY,'solid');line(2,tcGirlsLine,BROWN,'long');
band(3,dmUp,dmLo,bandBlue,bandBlueLine);
pts(3,dmMales,'diamond',mBlue);
line(3,dmLine,NAVY,'solid');
band(4,dwNPUp,dwNPLo,bandBrown,bandBrownLine);band(4,dwLUp,dwLLo,bandBrown,bandBrownLine);band(4,dwPUp,dwPLo,bandBrown,bandBrownLine);
pts(4,dwNP,'circle',mNP,2.2);pts(4,dwL,'circle',mL,2.2);pts(4,dwP,'circle',mP,2.2);
line(4,dwNPLine,BROWN,'solid');line(4,dwLLine,DKBROWN,'dash');line(4,dwPLine,DKBROWN,'dot',2.6);
band(5,dcBoysUp,dcBoysLo,bandBlue2,bandBlueLine);band(5,dcGirlsUp,dcGirlsLo,bandBrown,bandBrownLine);
pts(5,dcBoys,'diamond',mBlueLt);pts(5,dcGirls,'circle',mG,2.2);
line(5,dcBoysLine,NAVY,'solid');line(5,dcGirlsLine,BROWN,'long');

// ---- legends: a full-page overlay axis pair, in pixels
layout.xaxis7={domain:[0,1],range:[0,W],visible:false,fixedrange:true,anchor:'y7'};
layout.yaxis7={domain:[0,1],range:[H,0],visible:false,fixedrange:true,anchor:'x7'};
function key(x0,x1,mx,lx,y,col,dash,sym,st,label){
  traces.push({type:'scatter',mode:'lines',x:[x0,x1],y:[y,y],xaxis:'x7',yaxis:'y7',line:{color:col,width:3,dash:DASH[dash]},hoverinfo:'skip'});
  traces.push({type:'scatter',mode:'markers',x:[mx],y:[y],xaxis:'x7',yaxis:'y7',marker:{symbol:sym,size:SIZE[sym],color:st.fill,line:{color:st.line,width:1.8}},hoverinfo:'skip'});
  layout.annotations.push({xref:'paper',yref:'paper',x:lx/W,y:1-y/H,text:label,showarrow:false,xanchor:'left',yanchor:'middle',xshift:-3,font:{size:17,family:FONT,color:'#111'}});
}
key(249.5,298.5,320,339,54.3,NAVY,'solid','triangle-up',mBlue,'Males ≥16 yo');
key(681.9,726.3,744.7,760.9,54.3,BROWN,'solid','square',mNP,'Not pregnant/lactating');
key(955,998.8,1017,1033.6,54.3,DKBROWN,'dash','square',mL,'Lactating only');
key(681.9,726.3,744.7,760.9,84.3,DKBROWN,'dot','square',mP,'Pregnant only');
key(955,998.8,1017,1033.6,84.3,DKBROWN,'long','square',mPL,'Pregnant &amp; lactating');
key(1443.4,1492,1513.8,1533.4,54.3,NAVY,'solid','triangle-up',mBlueLt,'Boys, &lt;16 yo');
key(1443.4,1492,1513.8,1533.4,84.3,BROWN,'long','square',mG,'Girls, &lt;16 yo');
key(250.7,299.3,319.5,337.5,708.9,NAVY,'solid','diamond',mBlue,'Males ≥16 yo');
key(687.3,734.7,755,774.6,708.9,BROWN,'solid','circle',mNP,'Not pregnant/lactating');
key(983.4,1032,1052.2,1072,708.9,DKBROWN,'dash','circle',mL,'Lactating only');
key(687.3,734.7,755,774.6,738.6,DKBROWN,'dot','circle',mP,'Pregnant only');
key(1443.4,1492,1513.8,1533.4,708.9,NAVY,'solid','diamond',mBlueLt,'Boys, &lt;16 yo');
key(1443.4,1492,1513.8,1533.4,738.6,BROWN,'long','circle',mG,'Girls, &lt;16 yo');

Plotly.newPlot('c',traces,layout,{displayModeBar:false,staticPlot:true});
</script></body></html>
